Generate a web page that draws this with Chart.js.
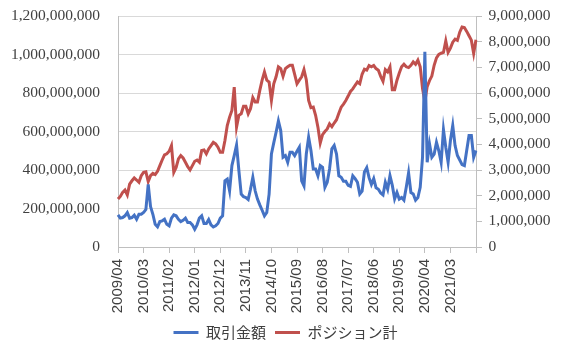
<!DOCTYPE html>
<html>
<head>
<meta charset="utf-8">
<script src="https://cdn.jsdelivr.net/npm/chart.js@4.4.0/dist/chart.umd.min.js"></script>
<style>
  html, body { margin: 0; padding: 0; background: #fff; }
  #wrap { width: 571px; height: 351px; }
</style>
</head>
<body>
<div id="wrap"><canvas id="js-line-chart" width="571" height="351"></canvas></div>
<script>
// months 2009/04 .. 2022/02
const months = []
for (let y = 2009, m = 4; months.length < 155; m++) {
  if (m > 12) { m = 1; y++ }
  months.push(y + '/' + String(m).padStart(2, '0'))
}

// 取引金額 (million), left axis
const tradeAmount = [
  167, 150, 153, 162, 179, 150, 153, 165, 144, 170, 170, 179, 195, 325, 210, 170,
  118, 105, 132, 136, 144, 118, 110, 150, 167, 162, 144, 132, 139, 150, 127, 127,
  115, 92, 115, 150, 162, 122, 122, 143, 115, 104, 110, 122, 150, 162, 344, 353,
  292, 423, 475, 530, 397, 275, 261, 257, 247, 300, 362, 292, 249, 219, 191, 162,
  179, 275, 483, 541, 596, 655, 605, 466, 475, 440, 492, 492, 475, 497, 518, 344,
  318, 483, 570, 501, 405, 405, 370, 423, 414, 310, 336, 405, 510, 527, 483, 370,
  362, 341, 341, 320, 315, 370, 355, 336, 275, 290, 390, 412, 360, 325, 355, 308,
  300, 280, 270, 336, 300, 370, 320, 250, 283, 249, 257, 243, 310, 385, 283, 275,
  243, 257, 310, 466, 1014, 440, 536, 466, 483, 544, 500, 440, 610, 518, 440, 553,
  631, 527, 475, 452, 428, 423, 501, 579, 579, 466, 501
]

// ポジション計 (million), right axis
const position = [
  1.87, 1.97, 2.13, 2.22, 2.03, 2.45, 2.58, 2.69, 2.61, 2.52, 2.78, 2.91, 2.93, 2.55, 2.78, 2.87,
  2.82, 2.95, 3.17, 3.39, 3.59, 3.63, 3.73, 3.95, 2.91, 3.10, 3.43, 3.56, 3.47, 3.30, 3.13, 3.00,
  3.17, 3.34, 3.39, 3.30, 3.76, 3.78, 3.63, 3.82, 3.95, 4.08, 4.02, 3.89, 3.69, 3.69, 4.15, 4.73,
  5.06, 5.32, 6.23, 4.67, 5.13, 5.19, 5.48, 5.48, 5.19, 5.39, 5.82, 5.65, 5.65, 6.10, 6.50, 6.82,
  6.50, 6.43, 5.71, 6.36, 6.63, 7.02, 6.95, 6.65, 6.95, 7.02, 7.08, 7.08, 6.73, 6.36, 6.50, 6.63,
  6.91, 6.52, 5.71, 5.43, 5.45, 5.13, 4.67, 4.05, 4.38, 4.50, 4.60, 4.80, 4.69, 4.83, 4.96, 5.21,
  5.45, 5.57, 5.71, 5.88, 6.06, 6.16, 6.30, 6.43, 6.36, 6.73, 6.93, 6.89, 7.07, 7.02, 7.07, 6.95,
  6.89, 6.65, 6.46, 6.91, 6.82, 7.02, 6.13, 6.13, 6.50, 6.78, 7.02, 7.12, 7.02, 6.99, 7.08, 7.21,
  7.12, 7.28, 7.02, 6.17, 5.65, 6.25, 6.48, 6.66, 7.08, 7.37, 7.50, 7.55, 7.58, 8.03, 7.58, 7.75,
  7.98, 8.10, 8.05, 8.37, 8.57, 8.55, 8.40, 8.23, 8.06, 7.54, 8.07
]

const seriesNames = ['取引金額', 'ポジション計']
const tickEvery = 11

const serif = "'Liberation Serif', 'Times New Roman', serif"
const textColor = '#404040'
const axisColor = '#BFBFBF'
const gridColor = '#D9D9D9'

const fmt = v => Math.round(v * 1e6).toLocaleString('en-US')

const ctx = document.getElementById('js-line-chart').getContext('2d')

const chart = new Chart(ctx, {
  type: 'line',
  data: {
    labels: months,
    datasets: [
      {
        label: seriesNames[0],
        data: tradeAmount,
        borderColor: '#4472C4',
        backgroundColor: '#4472C4',
        borderWidth: 3,
        pointRadius: 0,
        tension: 0,
        yAxisID: 'y',
      },
      {
        label: seriesNames[1],
        data: position,
        borderColor: '#C0504D',
        backgroundColor: '#C0504D',
        borderWidth: 3,
        pointRadius: 0,
        tension: 0,
        yAxisID: 'y1',
      },
    ],
  },
  options: {
    responsive: false,
    animation: false,
    layout: { padding: { top: 16, bottom: 1, left: 0, right: 0 } },
    plugins: {
      tooltip: { enabled: false },
      legend: {
        position: 'bottom',
        labels: {
          boxWidth: 25,
          boxHeight: 3,
          padding: 9,
          color: textColor,
          font: { family: "'Noto Sans CJK JP'", size: 15 },
          generateLabels(c) {
            return c.data.datasets.map((d, i) => ({
              text: d.label,
              fillStyle: d.borderColor,
              strokeStyle: d.borderColor,
              lineWidth: 0,
              hidden: false,
              datasetIndex: i,
              fontColor: textColor,
            }))
          },
        },
      },
    },
    scales: {
      x: {
        ticks: {
          autoSkip: false,
          minRotation: 90,
          maxRotation: 90,
          padding: 6,
          color: textColor,
          font: { family: "'Liberation Sans', Arial, sans-serif", size: 15 },
          callback: v => (v === months.length - 1 ? '' : months[v]),
        },
        grid: { drawOnChartArea: false, tickLength: 6, color: axisColor },
        border: { color: axisColor },
        afterBuildTicks(s) {
          s.ticks = s.ticks.filter(t => t.value % tickEvery === 0)
        },
        afterFit(s) { s.height = 69 },
      },
      y: {
        position: 'left',
        min: 0,
        max: 1200,
        ticks: {
          stepSize: 200,
          padding: 0,
          color: textColor,
          font: { family: serif, size: 15.5 },
          callback: fmt,
        },
        // invisible tick marks keep the labels away from the axis
        grid: { color: gridColor, drawTicks: true, tickLength: 18, tickColor: 'rgba(0,0,0,0)' },
        border: { color: axisColor },
        afterFit(s) { s.width = 118 },
      },
      y1: {
        position: 'right',
        min: 0,
        max: 9,
        ticks: {
          stepSize: 1,
          padding: 6.5,
          color: textColor,
          font: { family: serif, size: 15.5 },
          callback: fmt,
        },
        grid: { drawOnChartArea: false, tickLength: 6, color: axisColor },
        border: { color: axisColor },
        afterFit(s) { s.width = 95 },
      },
    },
  },
})
</script>
</body>
</html>
